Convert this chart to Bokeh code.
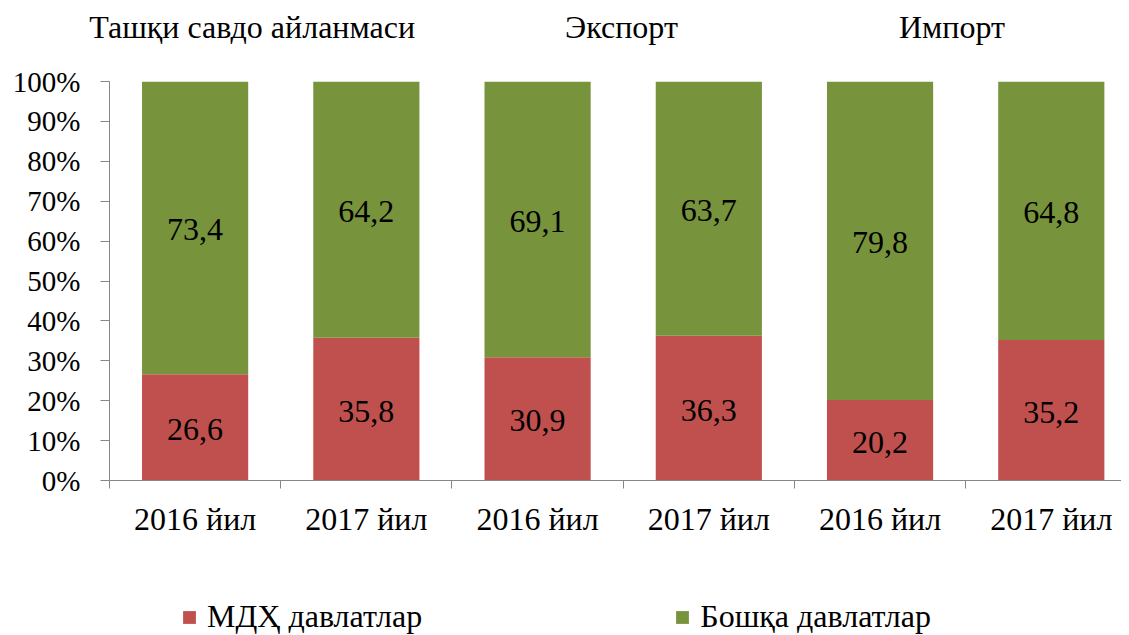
from bokeh.plotting import figure
from bokeh.layouts import column
from bokeh.models import (ColumnDataSource, Range1d, FixedTicker, Legend,
                          LegendItem, CustomJSTickFormatter, LinearAxis)
from bokeh.core.properties import value
from bokeh.embed import file_html
from bokeh.resources import INLINE

categories = ["2016 йил", "2017 йил", "2016 йил", "2017 йил", "2016 йил", "2017 йил"]
groups = ["Ташқи савдо айланмаси", "Экспорт", "Импорт"]
group_pos = [0.333, 2.49, 4.42]
mdh = [26.6, 35.8, 30.9, 36.3, 20.2, 35.2]
other = [73.4, 64.2, 69.1, 63.7, 79.8, 64.8]
series_names = ["МДҲ давлатлар", "Бошқа давлатлар"]

RED = "#C0504D"
GREEN = "#77933C"
FONT = "Liberation Serif"
AX = "#868686"

x = list(range(len(categories)))
src = ColumnDataSource(dict(
    x=x,
    top1=mdh,
    top2=[a + b for a, b in zip(mdh, other)],
    mid1=[a / 2 for a in mdh],
    mid2=[a + b / 2 for a, b in zip(mdh, other)],
    lab1=[f"{v:.1f}".replace(".", ",") for v in mdh],
    lab2=[f"{v:.1f}".replace(".", ",") for v in other],
))

p = figure(width=1121, height=540, output_backend="svg", toolbar_location=None,
           x_range=Range1d(-0.5, 5.41), y_range=Range1d(0, 100),
           min_border_left=109, min_border_right=0, min_border_top=81,
           min_border_bottom=60)
p.outline_line_color = None
p.xgrid.visible = False
p.ygrid.visible = False

r1 = p.vbar(x="x", bottom=0, top="top1", width=0.62, source=src,
            fill_color=RED, line_color=None)
r2 = p.vbar(x="x", bottom="top1", top="top2", width=0.62, source=src,
            fill_color=GREEN, line_color=None)

for mid, lab in (("mid1", "lab1"), ("mid2", "lab2")):
    p.text(x="x", y=mid, text=lab, source=src, text_align="center",
           text_baseline="middle", text_font=value(FONT), text_font_size="32px",
           text_color="black", y_offset=2)

# x axis
p.xaxis.ticker = FixedTicker(ticks=x, minor_ticks=[i - 0.5 for i in range(len(categories))])
p.xaxis.formatter = CustomJSTickFormatter(
    args=dict(labels=categories), code="return labels[Math.round(tick)];")
p.xaxis.major_tick_out = 0
p.xaxis.major_tick_in = 0
p.xaxis.minor_tick_out = 8
p.xaxis.minor_tick_in = 0
p.xaxis.minor_tick_line_color = AX
p.xaxis.axis_line_color = AX
p.xaxis.major_label_standoff = 12
p.xaxis.major_label_text_font = FONT
p.xaxis.major_label_text_font_size = "32px"
p.xaxis.major_label_text_color = "black"

# y axis
p.yaxis.ticker = FixedTicker(ticks=list(range(0, 101, 10)), minor_ticks=[])
p.yaxis.formatter = CustomJSTickFormatter(code="return tick.toFixed(0) + '%';")
p.yaxis.major_tick_out = 9
p.yaxis.major_tick_in = 0
p.yaxis.major_tick_line_color = AX
p.yaxis.axis_line_color = AX
p.yaxis.major_label_standoff = 20
p.yaxis.major_label_text_font = FONT
p.yaxis.major_label_text_font_size = "29px"
p.yaxis.major_label_text_color = "black"

# group titles as a top axis
top_axis = LinearAxis(
    ticker=FixedTicker(ticks=group_pos, minor_ticks=[]),
    formatter=CustomJSTickFormatter(
        args=dict(pos=group_pos, names=groups),
        code="let b=0; for (let i=0;i<pos.length;i++){ if (Math.abs(pos[i]-tick)<Math.abs(pos[b]-tick)) b=i;} return names[b];"),
    axis_line_color=None, major_tick_line_color=None, minor_tick_line_color=None,
    major_tick_out=0, major_tick_in=0, major_label_standoff=37,
    major_label_text_font=FONT, major_label_text_font_size="32px",
    major_label_text_color="black")
p.add_layout(top_axis, "above")

# legend figure (legend swatches only; glyphs lie outside the visible range)
p2 = figure(width=1121, height=95, output_backend="svg", toolbar_location=None,
            x_range=Range1d(0, 1), y_range=Range1d(0, 1),
            min_border_left=0, min_border_right=0, min_border_top=0,
            min_border_bottom=0)
p2.axis.visible = False
p2.grid.visible = False
p2.outline_line_color = None
d1 = p2.vbar(x=[10], top=[1], width=0.5, fill_color=RED, line_color=None)
d2 = p2.vbar(x=[10], top=[1], width=0.5, fill_color=GREEN, line_color=None)

legend = Legend(items=[LegendItem(label=series_names[0], renderers=[d1]),
                       LegendItem(label=series_names[1], renderers=[d2])],
                orientation="horizontal", location=(72, 0),
                glyph_width=16, glyph_height=16, label_standoff=10, spacing=252,
                padding=0, margin=0, border_line_color=None,
                background_fill_alpha=0,
                label_text_font=FONT, label_text_font_size="32px",
                label_text_color="black")
p2.add_layout(legend, "center")

open("out.html", "w").write(file_html(column(p, p2, spacing=0), INLINE))
